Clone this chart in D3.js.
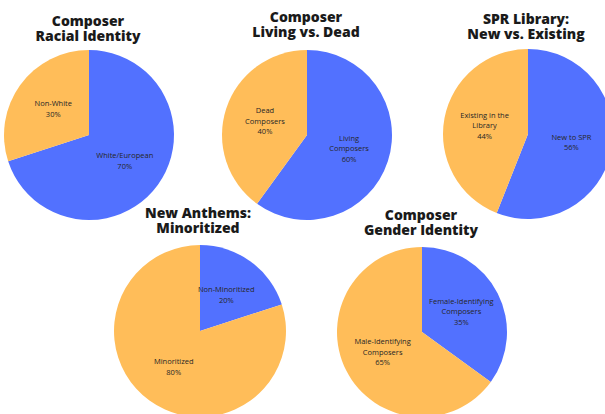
<!DOCTYPE html>
<html>
<head>
<meta charset="utf-8">
<script src="https://cdn.jsdelivr.net/npm/d3@7"></script>
<style>
  html, body { margin: 0; padding: 0; background: #ffffff; }
  svg { display: block; }
</style>
</head>
<body>
<svg id="chart" width="605" height="414"></svg>
<script>
// ---- Data ----
const chartTitles = [
  ["Composer", "Racial Identity"],
  ["Composer", "Living vs. Dead"],
  ["SPR Library:", "New vs. Existing"],
  ["New Anthems:", "Minoritized"],
  ["Composer", "Gender Identity"]
];
const blueLabels = [
  ["White/European"],
  ["Living", "Composers"],
  ["New to SPR"],
  ["Non-Minoritized"],
  ["Female-Identifying", "Composers"]
];
const blueValues = [70, 60, 56, 20, 35];
const orangeLabels = [
  ["Non-White"],
  ["Dead", "Composers"],
  ["Existing in the", "Library"],
  ["Minoritized"],
  ["Male-Identifying", "Composers"]
];
const orangeValues = [30, 40, 44, 80, 65];

// ---- Layout (positions/styles) ----
const layout = [
  { cx: 89,  cy: 135, r: 85, tx: 88,  ty: 26 },
  { cx: 307, cy: 135, r: 85, tx: 306, ty: 22 },
  { cx: 528, cy: 134, r: 85, tx: 526, ty: 24 },
  { cx: 200, cy: 331, r: 86, tx: 198, ty: 218 },
  { cx: 422, cy: 332, r: 85, tx: 421, ty: 220 }
];
const colors = { blue: "#5271ff", orange: "#ffbd59" };

const svg = d3.select("#chart");
const pie = d3.pie().sort(null).value(d => d.value);

chartTitles.forEach((title, i) => {
  const L = layout[i];
  const slices = [
    { key: "blue", value: blueValues[i], lines: blueLabels[i] },
    { key: "orange", value: orangeValues[i], lines: orangeLabels[i] }
  ];
  const arc = d3.arc().innerRadius(0).outerRadius(L.r);
  const labelArc = d3.arc().innerRadius(L.r * 0.52).outerRadius(L.r * 0.52);

  const g = svg.append("g").attr("transform", `translate(${L.cx},${L.cy})`);
  const arcs = pie(slices);

  g.selectAll("path.slice")
    .data(arcs)
    .join("path")
    .attr("class", "slice")
    .attr("d", arc)
    .attr("fill", d => colors[d.data.key]);

  const labels = g.selectAll("text.lbl")
    .data(arcs)
    .join("text")
    .attr("class", "lbl")
    .attr("text-anchor", "middle")
    .attr("font-family", "'Open Sans', 'Liberation Sans', sans-serif")
    .attr("font-size", 7.5)
    .attr("fill", "#262626");

  labels.each(function(d) {
    const [x, y] = labelArc.centroid(d);
    const lines = d.data.lines.concat([d3.format(".0f")(d.data.value) + "%"]);
    const n = lines.length;
    const lh = 10.5;
    const t = d3.select(this);
    lines.forEach((ln, k) => {
      t.append("tspan")
        .attr("x", x)
        .attr("y", y + (k - (n - 1) / 2) * lh + 2.5)
        .text(ln);
    });
  });

  title.forEach((ln, k) => {
    svg.append("text")
      .attr("class", "title")
      .attr("text-anchor", "middle")
      .attr("font-family", "'Open Sans', 'Liberation Sans', sans-serif")
      .attr("font-weight", 800)
      .attr("font-size", 14)
      .attr("fill", "#1a1a1a")
      .attr("x", L.tx)
      .attr("y", L.ty + k * 15)
      .text(ln);
  });
});
</script>
</body>
</html>
